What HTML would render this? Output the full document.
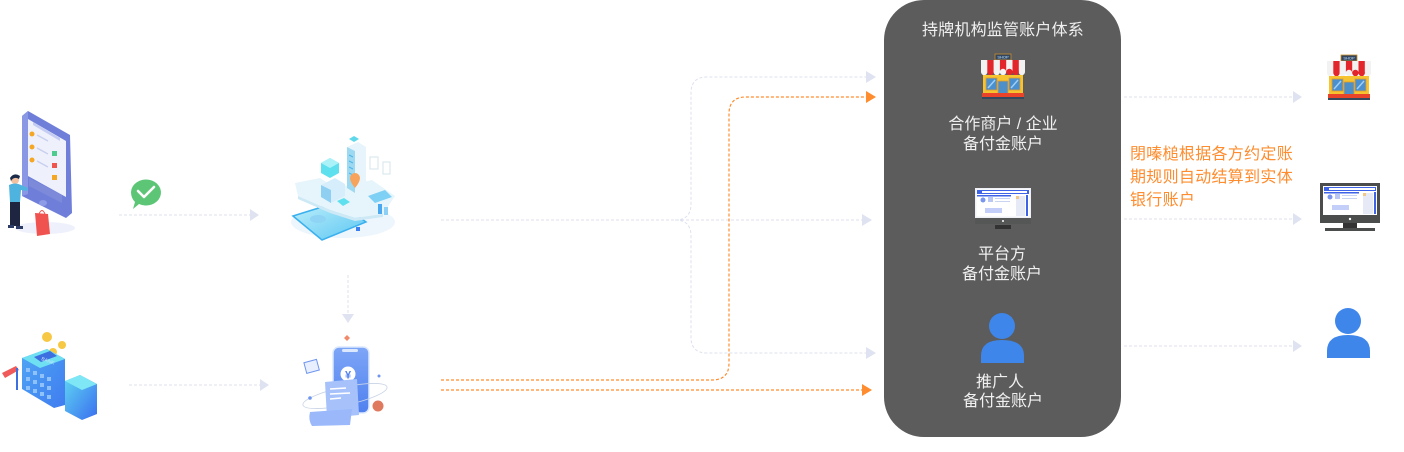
<!DOCTYPE html>
<html><head><meta charset="utf-8"><style>
html,body{margin:0;padding:0;background:#fff;}
svg{display:block;}
text{font-family:"Liberation Sans","Noto Sans CJK SC",sans-serif;}
</style></head><body>
<svg width="1404" height="452" viewBox="0 0 1404 452" xmlns="http://www.w3.org/2000/svg">
<defs>
<linearGradient id="gTab" x1="0" y1="0" x2="1" y2="1"><stop offset="0" stop-color="#bff0fb"/><stop offset="1" stop-color="#5cc6f2"/></linearGradient>
<linearGradient id="gBank" x1="0" y1="0" x2="1" y2="1"><stop offset="0" stop-color="#5fd6f2"/><stop offset="1" stop-color="#3a6ef0"/></linearGradient>
<linearGradient id="gBank2" x1="0" y1="0" x2="1" y2="1"><stop offset="0" stop-color="#4fa6f4"/><stop offset="1" stop-color="#3f7cf0"/></linearGradient>
<linearGradient id="gPhone" x1="0" y1="0" x2="0" y2="1"><stop offset="0" stop-color="#7ea6f7"/><stop offset="1" stop-color="#4f80ef"/></linearGradient>
</defs>

<!-- dark box -->
<rect x="884" y="0" width="237" height="437" rx="40" fill="#5b5c5b"/>

<!-- connectors gray -->
<g fill="none" stroke="#dde0ee" stroke-width="1" stroke-dasharray="3 2">
<line x1="119" y1="215" x2="250" y2="215"/>
<line x1="129" y1="385" x2="260" y2="385"/>
<line x1="348" y1="275" x2="348" y2="314"/>
<line x1="441" y1="220" x2="862" y2="220"/>
<path d="M675,220 Q691,220 691,204 L691,93 Q691,77 707,77 L866,77"/>
<path d="M675,220 Q691,220 691,236 L691,337 Q691,353 707,353 L866,353"/>
<line x1="1124" y1="97" x2="1293" y2="97"/>
<line x1="1124" y1="219" x2="1293" y2="219"/>
<line x1="1124" y1="346" x2="1293" y2="346"/>
</g>
<g fill="#dfe2f0">
<polygon points="250,209 259,215 250,221"/>
<polygon points="260,379 269,385 260,391"/>
<polygon points="342,314 348,323 354,314"/>
<polygon points="862,214 872,220 862,226"/>
<polygon points="866,71 876,77 866,83"/>
<polygon points="866,347 876,353 866,359"/>
<polygon points="1293,91 1302,97 1293,103"/>
<polygon points="1293,213 1302,219 1293,225"/>
<polygon points="1293,340 1302,346 1293,352"/>
</g>
<!-- connectors orange -->
<g fill="none" stroke="#ff8c2e" stroke-width="1.2" stroke-dasharray="3 2">
<path d="M441,380 L712,380 Q729,380 729,363 L729,114 Q729,97 746,97 L866,97"/>
<line x1="441" y1="390" x2="862" y2="390"/>
</g>
<g fill="#ff8c2e">
<polygon points="866,91 876,97 866,103"/>
<polygon points="862,384 872,390 862,396"/>
</g>

<!-- illustration 1: phone + person -->
<ellipse cx="45" cy="228" rx="30" ry="6" fill="#eef1fb"/>
<polygon points="22,116 28,111 70,135 72,213 66,218 22,196" fill="#6f7fd9"/>
<polygon points="22,116 28,111 28,194 22,196" fill="#8a97e4"/>
<polygon points="28,119 66,141 66,197 28,176" fill="#eef1fc"/>
<polygon points="33,122 60,138 60,141 33,125" fill="#c5ccf3"/>
<circle cx="32" cy="134" r="2.5" fill="#f5a623"/>
<circle cx="32" cy="147" r="2.5" fill="#f5a623"/>
<circle cx="32" cy="160" r="2.5" fill="#f5a623"/>
<line x1="37" y1="135" x2="48" y2="141" stroke="#c9cfee" stroke-width="1.5"/>
<line x1="37" y1="148" x2="48" y2="154" stroke="#c9cfee" stroke-width="1.5"/>
<line x1="37" y1="161" x2="48" y2="167" stroke="#c9cfee" stroke-width="1.5"/>
<rect x="52" y="151" width="5" height="5" fill="#4ecb8e"/>
<rect x="52" y="163" width="5" height="5" fill="#f0544f"/>
<rect x="52" y="175" width="5" height="5" fill="#f5a623"/>
<polygon points="29,178 62,195 62,203 29,186" fill="#7d8ad9"/>
<ellipse cx="43" cy="203" rx="4" ry="3" fill="#8e9be6"/>
<!-- person -->
<circle cx="15" cy="180" r="4" fill="#f2c2a0"/>
<path d="M10,178 Q14,172 20,176 L19,179 Q14,176 11,181 Z" fill="#1c2a4a"/>
<path d="M9,185 Q15,182 21,185 L28,188 L27,191 L21,190 L20,202 L10,202 Z" fill="#4fb3e0"/>
<rect x="10" y="202" width="10" height="24" fill="#1d2540"/>
<rect x="8" y="225" width="6" height="3" fill="#2c3a66"/>
<rect x="16" y="226" width="7" height="3" fill="#2c3a66"/>
<polygon points="35,213 48,214 50,234 37,236" fill="#f0524f"/>
<path d="M39,214 Q42,207 45,214" fill="none" stroke="#f0524f" stroke-width="1"/>

<!-- wechat -->
<path d="M131,192 A15,13 0 1 1 139,204 L133,209 L135,202 Q131,198 131,192 Z" fill="#5cc676"/>
<path d="M138,191 L144,197 L154,187" fill="none" stroke="#fff" stroke-width="2.6" stroke-linecap="round" stroke-linejoin="round"/>

<!-- illustration 2: platform -->
<ellipse cx="343" cy="222" rx="52" ry="16" fill="#eef6fd"/>
<polygon points="293,216 338,202 366,222 322,240" fill="url(#gTab)" stroke="#3ab0ee" stroke-width="1.5"/>
<ellipse cx="318" cy="219" rx="8" ry="4" fill="#8fd4f4"/>
<path d="M295,183 L320,178 L336,188 L372,180 L395,196 L383,214 L355,218 L330,210 L298,196 Z" fill="#e6f5fb"/>
<path d="M298,196 L330,210 L355,218 L383,214 L383,217 L355,221 L330,213 L298,199 Z" fill="#cde9f6"/>
<polygon points="321,163 330,158 339,163 339,173 330,178 321,173" fill="#5fe0ee"/>
<polygon points="321,163 330,168 339,163 330,158" fill="#aaf2f8"/>
<polygon points="347,147 358,142 366,147 366,188 355,193 347,188" fill="#e7f4fb"/>
<polygon points="347,147 355,151 355,193 347,188" fill="#9ed9f2"/>
<line x1="349" y1="155" x2="353" y2="157" stroke="#4bb4e8"/><line x1="349" y1="161" x2="353" y2="163" stroke="#4bb4e8"/>
<line x1="349" y1="167" x2="353" y2="169" stroke="#4bb4e8"/><line x1="349" y1="173" x2="353" y2="175" stroke="#4bb4e8"/>
<polygon points="354,136 359,139 354,142 349,139" fill="#5fd8ec"/>
<polygon points="321,185 335,178 345,184 345,196 331,203 321,197" fill="#d6eefb"/>
<polygon points="321,185 331,190 331,203 321,197" fill="#8fd0f2"/>
<path d="M350,178 a5,5 0 1 1 10,0 q0,4 -5,10 q-5,-6 -5,-10 z" fill="#f7a35c"/>
<polygon points="368,196 385,190 392,197 375,203" fill="#7fd0f5"/>
<rect x="370" y="157" width="8" height="12" fill="none" stroke="#d7e4ee"/>
<rect x="383" y="162" width="7" height="12" fill="none" stroke="#d7e4ee"/>
<rect x="378" y="204" width="4" height="10" fill="#4aa8f0"/><rect x="384" y="207" width="4" height="8" fill="#8cd0f5"/>
<polygon points="337,201 344,198 350,202 343,206" fill="#5fe0ee"/>
<rect x="356" y="227" width="4" height="4" fill="#3a7ef0"/>

<!-- illustration 3: money phone -->
<path d="M347,335 l3,3 l-3,3 l-3,-3z" fill="#f08a6a"/>
<rect x="333" y="347" width="36" height="66" rx="6" fill="url(#gPhone)" stroke="#dce8fd" stroke-width="1.5"/>
<rect x="342" y="349" width="16" height="3" rx="1.5" fill="#dce8fd"/>
<circle cx="348" cy="374" r="7.5" fill="#ffffff"/>
<text x="348" y="378.5" font-size="11" font-weight="bold" fill="#4f80ef" text-anchor="middle">¥</text>
<ellipse cx="345" cy="396" rx="43" ry="9" transform="rotate(-12 345 396)" fill="none" stroke="#c9d3e6" stroke-width="0.8"/>
<polygon points="325,382 357,379 359,415 327,418" fill="#a7c2fb"/>
<line x1="330" y1="389" x2="346" y2="388" stroke="#fff" stroke-width="1.5"/>
<line x1="330" y1="394" x2="350" y2="393" stroke="#fff" stroke-width="1.5"/>
<line x1="330" y1="399" x2="341" y2="398" stroke="#fff" stroke-width="1.5"/>
<path d="M310,412 L352,409 L350,425 L312,426 Q308,420 310,412 Z" fill="#9ab8fa"/>
<rect x="305" y="361" width="13" height="11" transform="rotate(-15 311 366)" fill="#e8efff" stroke="#6f95ef" stroke-width="1"/>
<circle cx="378" cy="406" r="5.5" fill="#e07a5f"/>
<circle cx="310" cy="398" r="1.8" fill="#6f95ef"/>
<circle cx="379" cy="376" r="1.5" fill="#6f95ef"/>

<!-- illustration 4: bank -->
<circle cx="47" cy="337" r="5" fill="#f7c844"/>
<circle cx="62" cy="345" r="4" fill="#f7c844"/>
<circle cx="53" cy="352" r="4" fill="#f7c844"/>
<polygon points="22,358 47,349 65,359 65,405 54,408 22,389" fill="url(#gBank2)"/>
<polygon points="22,358 47,349 65,359 40,368" fill="#6ee0f2"/>
<polygon points="34,357 50,351 57,356 41,362" fill="#3c6fe0"/>
<text x="41" y="360" font-size="5" fill="#cfe3ff" transform="rotate(20 41 360)">BANK</text>
<g fill="#8fc2fb">
<rect x="26" y="368" width="4" height="4"/><rect x="33" y="371" width="4" height="4"/><rect x="40" y="374" width="4" height="4"/><rect x="47" y="377" width="4" height="4"/>
<rect x="26" y="377" width="4" height="4"/><rect x="33" y="380" width="4" height="4"/><rect x="40" y="383" width="4" height="4"/><rect x="47" y="386" width="4" height="4"/>
<rect x="26" y="386" width="4" height="4"/><rect x="33" y="389" width="4" height="4"/><rect x="40" y="392" width="4" height="4"/><rect x="47" y="395" width="4" height="4"/>
</g>
<polygon points="65,381 80,375 97,384 97,414 82,420 65,411" fill="url(#gBank)"/>
<polygon points="65,381 80,375 97,384 82,390" fill="#7ee6f4"/>
<polygon points="2,373 16,366 19,370 5,378" fill="#f05a5a"/>
<rect x="16" y="368" width="2" height="22" fill="#3c6fe0"/>

<!-- box shop icon -->
<g transform="translate(980,54)">
<rect x="15" y="0" width="16" height="6" fill="#34465f" stroke="#c98f2a" stroke-width="0.8"/>
<text x="23" y="4.6" font-size="4" fill="#bfe3ff" text-anchor="middle">SHOP</text>
<rect x="1" y="6" width="44" height="12" fill="#f2f2f2"/>
<rect x="7.3" y="6" width="6.3" height="12" fill="#e3262b"/>
<rect x="19.9" y="6" width="6.3" height="12" fill="#e3262b"/>
<rect x="32.5" y="6" width="6.3" height="12" fill="#e3262b"/>
<g fill="#f2f2f2"><circle cx="4.2" cy="18" r="3.2"/><circle cx="23" cy="18" r="3.2"/><circle cx="41.8" cy="18" r="3.2"/></g>
<g fill="#e3262b"><circle cx="10.5" cy="18" r="3.2"/><circle cx="29.4" cy="18" r="3.2"/><circle cx="35.7" cy="18" r="3.2"/></g>
<circle cx="16.8" cy="18" r="3.2" fill="#f2f2f2"/>
<rect x="3" y="21" width="40" height="19" fill="#f6c431"/>
<rect x="6" y="24" width="11" height="12" fill="#4a90d0" stroke="#e39a2a" stroke-width="0.8"/>
<rect x="29" y="24" width="11" height="12" fill="#4a90d0" stroke="#e39a2a" stroke-width="0.8"/>
<line x1="8" y1="34" x2="15" y2="26" stroke="#9fd0f2" stroke-width="1.5"/>
<line x1="31" y1="34" x2="38" y2="26" stroke="#9fd0f2" stroke-width="1.5"/>
<rect x="18" y="27" width="10" height="16" fill="#4d8fc8" stroke="#e39a2a" stroke-width="0.8"/>
<rect x="2" y="39" width="42" height="4" fill="#e9432a"/>
<rect x="2" y="43" width="42" height="2" fill="#34495e"/>
</g>
<!-- right shop icon -->
<g transform="translate(1326,55)">
<rect x="15" y="0" width="16" height="6" fill="#34465f" stroke="#c98f2a" stroke-width="0.8"/>
<text x="23" y="4.6" font-size="4" fill="#bfe3ff" text-anchor="middle">SHOP</text>
<rect x="1" y="6" width="44" height="12" fill="#f2f2f2"/>
<rect x="7.3" y="6" width="6.3" height="12" fill="#e3262b"/>
<rect x="19.9" y="6" width="6.3" height="12" fill="#e3262b"/>
<rect x="32.5" y="6" width="6.3" height="12" fill="#e3262b"/>
<g fill="#f2f2f2"><circle cx="4.2" cy="18" r="3.2"/><circle cx="23" cy="18" r="3.2"/><circle cx="41.8" cy="18" r="3.2"/></g>
<g fill="#e3262b"><circle cx="10.5" cy="18" r="3.2"/><circle cx="29.4" cy="18" r="3.2"/><circle cx="35.7" cy="18" r="3.2"/></g>
<circle cx="16.8" cy="18" r="3.2" fill="#f2f2f2"/>
<rect x="3" y="21" width="40" height="19" fill="#f6c431"/>
<rect x="6" y="24" width="11" height="12" fill="#4a90d0" stroke="#e39a2a" stroke-width="0.8"/>
<rect x="29" y="24" width="11" height="12" fill="#4a90d0" stroke="#e39a2a" stroke-width="0.8"/>
<line x1="8" y1="34" x2="15" y2="26" stroke="#9fd0f2" stroke-width="1.5"/>
<line x1="31" y1="34" x2="38" y2="26" stroke="#9fd0f2" stroke-width="1.5"/>
<rect x="18" y="27" width="10" height="16" fill="#4d8fc8" stroke="#e39a2a" stroke-width="0.8"/>
<rect x="2" y="39" width="42" height="4" fill="#e9432a"/>
<rect x="2" y="43" width="42" height="2" fill="#34495e"/>
</g>

<!-- box monitor -->
<g transform="translate(975,188)">
<rect x="0" y="0" width="56" height="30" fill="#eef0f6"/>
<rect x="1.5" y="1.5" width="53" height="27" fill="#ffffff"/>
<rect x="2" y="2" width="52" height="4" fill="#3e63e6"/>
<rect x="7" y="3" width="45" height="2" fill="#ffffff"/>
<rect x="2" y="7" width="34" height="1.5" fill="#3e63e6"/>
<circle cx="8" cy="12" r="2.5" fill="#7a95ee"/>
<rect x="13" y="9" width="5" height="5" fill="#b9c7f5"/>
<rect x="20" y="10" width="15" height="1" fill="#c9d3f2"/><rect x="20" y="13" width="15" height="1" fill="#c9d3f2"/>
<rect x="10" y="20" width="17" height="5" fill="#c3cff8"/>
<rect x="41" y="8" width="9" height="20" fill="#e6eaf7"/>
<rect x="51" y="7" width="2" height="21" fill="#3e63e6"/>
<rect x="41" y="8" width="3" height="3" fill="#f2c88a"/>
<rect x="0" y="30" width="56" height="6" fill="#555656"/>
<circle cx="28" cy="33" r="1" fill="#fff"/>
<rect x="20" y="37" width="16" height="4" fill="#333"/>
</g>
<!-- right monitor -->
<g transform="translate(1320,183)">
<rect x="0" y="0" width="60" height="40" fill="#4b4c4c"/>
<rect x="3" y="3" width="54" height="29" fill="#ffffff"/>
<rect x="4" y="4" width="52" height="4" fill="#3e63e6"/>
<rect x="9" y="5" width="46" height="2" fill="#ffffff"/>
<rect x="4" y="9" width="35" height="1.5" fill="#3e63e6"/>
<circle cx="10" cy="14" r="2.5" fill="#7a95ee"/>
<rect x="15" y="11" width="5" height="5" fill="#b9c7f5"/>
<rect x="22" y="12" width="15" height="1" fill="#c9d3f2"/><rect x="22" y="15" width="15" height="1" fill="#c9d3f2"/>
<rect x="12" y="22" width="17" height="5" fill="#c3cff8"/>
<rect x="43" y="10" width="10" height="21" fill="#e6eaf7"/>
<rect x="54" y="9" width="2" height="22" fill="#3e63e6"/>
<rect x="43" y="10" width="3" height="3" fill="#f2c88a"/>
<circle cx="30" cy="36" r="1.2" fill="#fff"/>
<rect x="23" y="40" width="14" height="5" fill="#333"/>
<rect x="5" y="45" width="50" height="3" fill="#4b4c4c"/>
</g>

<!-- persons -->
<circle cx="1002" cy="326" r="13" fill="#3f86ea"/>
<path d="M981,363 L981,356 Q981,340 1002,340 Q1024,340 1024,356 L1024,363 Z" fill="#3f86ea"/>
<circle cx="1348" cy="321" r="13" fill="#3f86ea"/>
<path d="M1327,358 L1327,351 Q1327,335 1348,335 Q1370,335 1370,351 L1370,358 Z" fill="#3f86ea"/>

<!-- texts -->
<g fill="#f0f0f0" font-size="16" text-anchor="middle">
<text x="1003" y="35" letter-spacing="0.2">持牌机构监管账户体系</text>
<text x="1003" y="129">合作商户 / 企业</text>
<text x="1003" y="149">备付金账户</text>
<text x="1002" y="259">平台方</text>
<text x="1002" y="279">备付金账户</text>
<text x="1000" y="387">推广人</text>
<text x="1003" y="406">备付金账户</text>
</g>
<g fill="#ff8c2e" font-size="16">
<text x="1130" y="159" letter-spacing="0.3">閉嗪槌根据各方约定账</text>
<text x="1130" y="182" letter-spacing="0.3">期规则自动结算到实体</text>
<text x="1130" y="205" letter-spacing="0.3">银行账户</text>
</g>
</svg>
</body></html>
